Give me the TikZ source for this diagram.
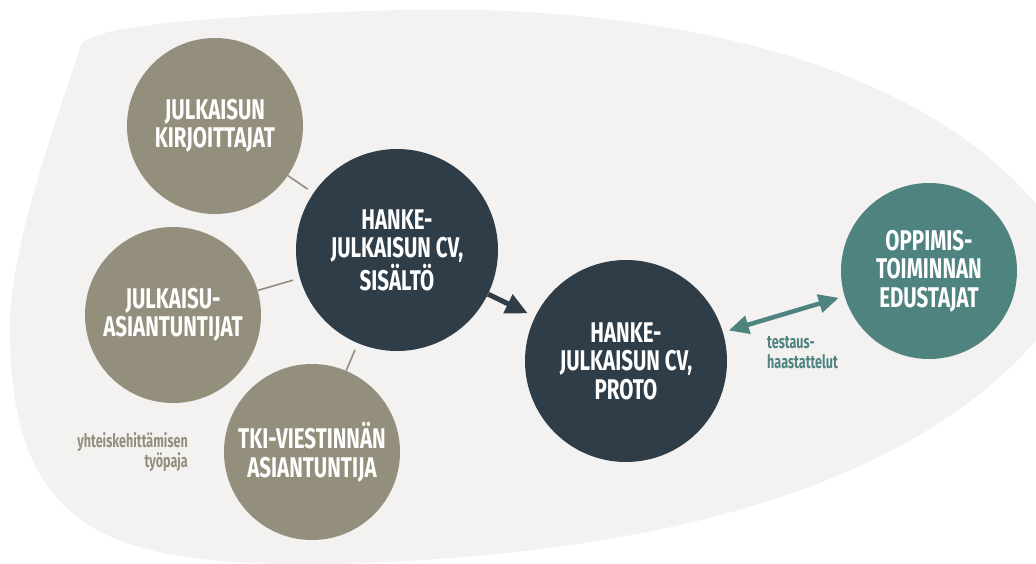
\documentclass[tikz,border=0pt]{standalone}
\usepackage{fontspec}
\setmainfont{Fira Sans}
\newfontfamily\dinfont[FakeStretch=0.72]{Fira Sans}
\newfontfamily\dinsmall[FakeStretch=0.68]{Fira Sans}
\usetikzlibrary{arrows.meta}

\definecolor{blobgray}{HTML}{F3F2F0}
\definecolor{stone}{HTML}{948F7D}
\definecolor{slate}{HTML}{2F3D48}
\definecolor{seateal}{HTML}{4F8380}

\tikzset{
  bubble/.style={circle, inner sep=0pt, align=center, text=white,
    font=\dinfont\bfseries\fontsize{28.5}{28.5}\selectfont},
  stonebubble/.style={bubble, fill=stone, minimum size=176pt},
  slatebubble/.style={bubble, fill=slate, minimum size=202pt},
  tealbubble/.style={bubble, fill=seateal, minimum size=176pt},
  tieline/.style={draw=stone, line width=1.6pt, shorten >=7pt},
  flowarrow/.style={draw=slate, line width=5pt, shorten >=8pt,
    -{Triangle[length=22pt,width=20pt]}},
  swaparrow/.style={draw=seateal, line width=4.5pt, shorten >=6pt, shorten <=6pt,
    {Triangle[length=20pt,width=18pt]}-{Triangle[length=20pt,width=18pt]}},
  smalllabel/.style={inner sep=0pt, font=\dinsmall\bfseries\fontsize{18.5}{20}\selectfont}
}

\begin{document}
\begin{tikzpicture}[x=1pt,y=-1pt]
\useasboundingbox (0,0) rectangle (1036,564);
\fill[white] (0,0) rectangle (1036,564);

% light background area
\begin{scope}
\clip (0,0) rectangle (1036,564);
\fill[blobgray]
  (80,48) .. controls (82,32) and (140,18) .. (400,10)
  .. controls (650,4) and (920,55) .. (1045,215)
  -- (1045,330)
  .. controls (930,470) and (700,555) .. (330,564)
  .. controls (120,566) and (10,540) .. (10,330)
  .. controls (8,250) and (60,110) .. cycle;
\end{scope}

% participant groups
\node[stonebubble] (kirj) at (215,126) {JULKAISUN\\KIRJOITTAJAT};
\node[stonebubble] (asiant) at (173,315) {JULKAISU-\\ASIANTUNTIJAT};
\node[stonebubble] (tki) at (312,452) {TKI-VIESTINNÄN\\ASIANTUNTIJA};

% outputs
\node[slatebubble] (sisalto) at (397,250) {HANKE-\\JULKAISUN CV,\\SISÄLTÖ};
\node[slatebubble] (proto) at (626,361) {HANKE-\\JULKAISUN CV,\\PROTO};
\node[tealbubble] (oppi) at (929,271) {OPPIMIS-\\TOIMINNAN\\EDUSTAJAT};

% connectors
\draw[tieline] (kirj) -- (sisalto);
\draw[tieline] (asiant) -- (sisalto);
\draw[tieline] (tki) -- (sisalto);
\draw[flowarrow] (sisalto) -- (proto);
\draw[swaparrow] (proto) -- (oppi);

% labels
\node[smalllabel, text=seateal, align=left, anchor=west] (testaus) at (767,353)
  {testaus-\\haastattelut};
\node[smalllabel, text=stone, align=right, anchor=east] (tyopaja) at (188,452)
  {yhteiskehittämisen\\työpaja};
\end{tikzpicture}
\end{document}
